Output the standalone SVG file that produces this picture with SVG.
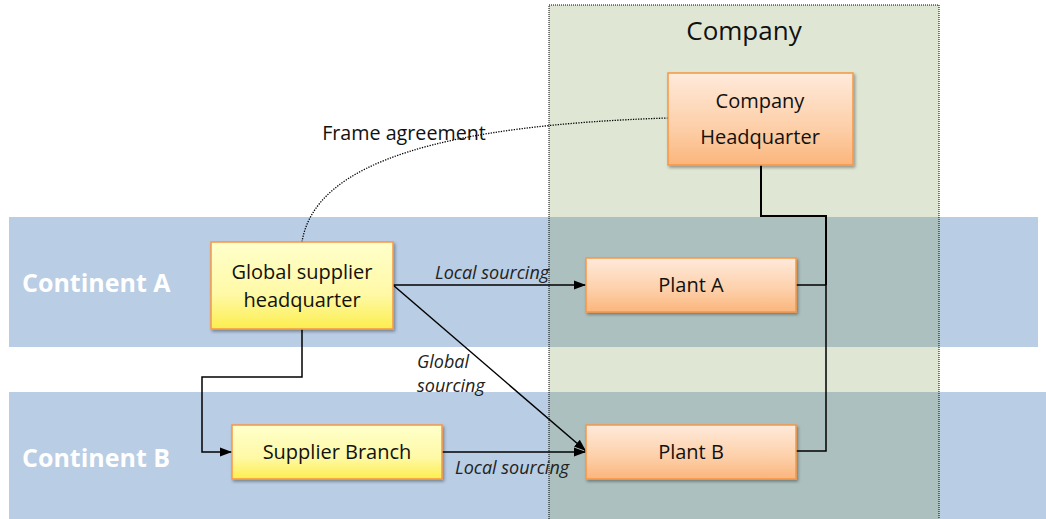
<svg xmlns="http://www.w3.org/2000/svg" width="1046" height="519" viewBox="0 0 1046 519">
  <defs>
    <linearGradient id="gYellow" x1="0" y1="0" x2="0" y2="1">
      <stop offset="0" stop-color="#ffffcb"/>
      <stop offset="0.6" stop-color="#fff9a6"/>
      <stop offset="1" stop-color="#fcee4f"/>
    </linearGradient>
    <linearGradient id="gOrange" x1="0" y1="0" x2="0" y2="1">
      <stop offset="0" stop-color="#ffeadb"/>
      <stop offset="0.6" stop-color="#fdcfa8"/>
      <stop offset="1" stop-color="#fbb57c"/>
    </linearGradient>
    <filter id="shadow" x="-10%" y="-10%" width="125%" height="130%">
      <feDropShadow dx="1.5" dy="2" stdDeviation="1.5" flood-color="#000" flood-opacity="0.35"/>
    </filter>
    <marker id="arrow" viewBox="0 0 12 10" refX="12" refY="5" markerWidth="12" markerHeight="10" markerUnits="userSpaceOnUse" orient="auto">
      <path d="M0,0.5 L12,5 L0,9.5 z" fill="#000"/>
    </marker>
  </defs>
  <style>
    .band { fill: #b9cde4; }
    .company { fill: rgb(137,162,92); fill-opacity: 0.27; stroke: #000; stroke-width: 1; stroke-dasharray: 1 1; }
    .ybox { fill: url(#gYellow); stroke: #f79646; stroke-width: 1.5; filter: url(#shadow); }
    .obox { fill: url(#gOrange); stroke: #f79646; stroke-width: 1.5; filter: url(#shadow); }
    .label { font-family: "Open Sans", Lato, sans-serif; font-size: 20px; fill: #111; text-anchor: middle; }
    .edge-label { font-family: "Open Sans", Lato, sans-serif; font-size: 18px; font-style: italic; fill: #222; }
    .continent { font-family: "Open Sans", Lato, sans-serif; font-size: 25px; font-weight: bold; fill: #fff; }
    .line { fill: none; stroke: #000; stroke-width: 1.5; }
    .dotted { fill: none; stroke: #000; stroke-width: 1.3; stroke-dasharray: 1.3 1.3; }
  </style>

  <rect width="1046" height="519" fill="#fff"/>

  <!-- Continent bands -->
  <g id="continent-a">
    <rect class="band" x="9" y="217" width="1029" height="130"/>
    <text class="continent" x="22" y="292">Continent A</text>
  </g>
  <g id="continent-b">
    <rect class="band" x="9" y="392" width="1037" height="127"/>
    <text class="continent" x="22" y="467">Continent B</text>
  </g>

  <!-- Company boundary -->
  <g id="company">
    <rect class="company" x="549" y="5" width="390" height="520"/>
    <text class="label" x="744" y="40" style="font-size:26px">Company</text>
  </g>

  <!-- Connectors -->
  <g id="connectors">
    <path class="dotted" d="M302,242 C315,160 450,125 668,118"/>
    <text class="label" x="404" y="140" style="font-size:19.7px">Frame agreement</text>

    <line class="line" x1="393" y1="285" x2="586" y2="285" marker-end="url(#arrow)"/>
    <text class="edge-label" x="435" y="279">Local sourcing</text>

    <line class="line" x1="393" y1="285" x2="586" y2="451" marker-end="url(#arrow)"/>
    <text class="edge-label" x="417" y="368">Global</text>
    <text class="edge-label" x="417" y="392">sourcing</text>

    <line class="line" x1="442" y1="452" x2="586" y2="452" marker-end="url(#arrow)"/>
    <text class="edge-label" x="455" y="474">Local sourcing</text>

    <polyline class="line" points="302,329 302,377 202,377 202,452 232,452" marker-end="url(#arrow)"/>

    <polyline class="line" style="stroke-width:2" points="761,165 761,216 826,216 826,285"/>
    <polyline class="line" points="796,285 826,285 826,451 796,451"/>
  </g>

  <!-- Nodes -->
  <g id="company-headquarter">
    <rect class="obox" x="668" y="73" width="185" height="92"/>
    <text class="label" x="760" y="108">Company</text>
    <text class="label" x="760" y="144">Headquarter</text>
  </g>
  <g id="global-supplier-headquarter">
    <rect class="ybox" x="211" y="242" width="182" height="87"/>
    <text class="label" x="302" y="279">Global supplier</text>
    <text class="label" x="302" y="307">headquarter</text>
  </g>
  <g id="plant-a">
    <rect class="obox" x="586" y="258" width="210" height="54"/>
    <text class="label" x="691" y="292">Plant A</text>
  </g>
  <g id="supplier-branch">
    <rect class="ybox" x="232" y="425" width="210" height="54"/>
    <text class="label" x="337" y="459">Supplier Branch</text>
  </g>
  <g id="plant-b">
    <rect class="obox" x="586" y="425" width="210" height="54"/>
    <text class="label" x="691" y="459">Plant B</text>
  </g>
</svg>
